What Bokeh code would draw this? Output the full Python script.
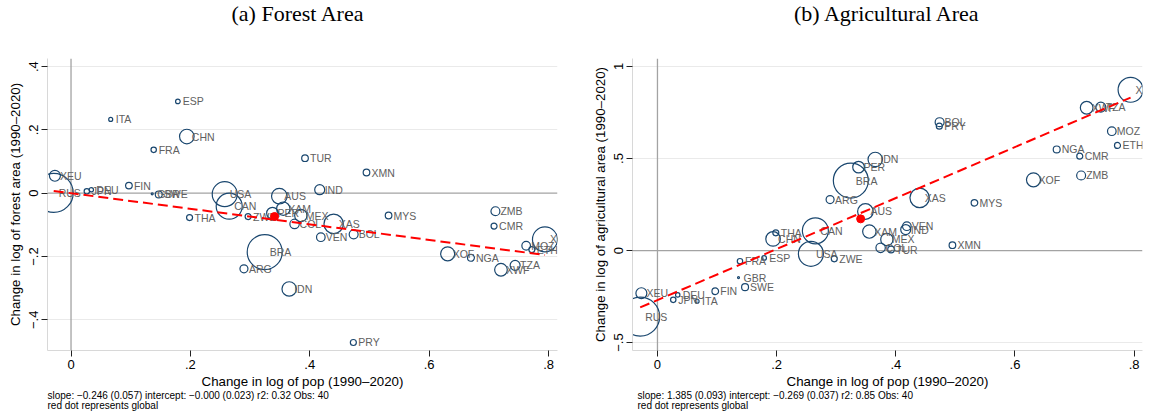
import math
from bokeh.plotting import figure
from bokeh.layouts import row
from bokeh.models import Range1d, FixedTicker, Span, Title, ColumnDataSource
from bokeh.core.properties import value
from bokeh.embed import file_html
from bokeh.resources import INLINE

# ---------------- data ----------------
countries = ["RUS", "XEU", "JPN", "DEU", "ITA", "FIN", "GBR", "SWE", "FRA", "ESP",
             "THA", "CHN", "CAN", "USA", "ZWE", "ARG", "BRA", "PER", "AUS", "IDN",
             "XAM", "COL", "MEX", "TUR", "IND", "VEN", "XAS", "BOL", "PRY", "MYS",
             "XMN", "XOF", "NGA", "ZMB", "CMR", "TZA", "XWF", "MOZ", "ETH", "XCF"]
pop_change = [-0.029, -0.027, 0.0265, 0.034, 0.0665, 0.097, 0.136, 0.147, 0.1385, 0.179,
              0.1986, 0.194, 0.265, 0.2575, 0.2967, 0.2897, 0.3245, 0.3375, 0.349, 0.3655,
              0.3556, 0.3745, 0.385, 0.392, 0.4166, 0.4185, 0.44, 0.4735, 0.473, 0.532,
              0.495, 0.631, 0.670, 0.711, 0.7087, 0.744, 0.7203, 0.7625, 0.772, 0.794]
forest_change = [0.001, 0.055, 0.006, 0.011, 0.233, 0.024, -0.002, -0.004, 0.137, 0.290,
                 -0.077, 0.179, -0.041, -0.003, -0.074, -0.239, -0.186, -0.063, -0.0095, -0.3025,
                 -0.049, -0.097, -0.0705, 0.1106, 0.011, -0.139, -0.097, -0.130, -0.4717, -0.0705,
                 0.0654, -0.1915, -0.204, -0.057, -0.104, -0.228, -0.242, -0.166, -0.178, -0.146]
agri_change = [-0.359, -0.232, -0.268, -0.241, -0.2755, -0.221, -0.147, -0.199, -0.058, -0.040,
               0.096, 0.063, 0.107, -0.018, -0.045, 0.277, 0.380, 0.453, 0.212, 0.4946,
               0.103, 0.0145, 0.060, 0.0054, 0.114, 0.132, 0.286, 0.697, 0.6755, 0.259,
               0.029, 0.384, 0.549, 0.4076, 0.5127, 0.779, 0.7755, 0.648, 0.5707, 0.873]
weight = [380, 30, 7.3, 4.8, 4, 11, 1, 12, 7.3, 5.3,
          9, 53, 169, 156, 9, 16, 306, 34, 61, 52,
          45, 22, 38, 11, 25, 18.5, 94, 20, 9, 11,
          11, 49, 12, 20, 9, 25, 40, 18.5, 9, 156]

global_pop = [0.341]
global_forest = [-0.0736]
global_agri = [0.172]

forest_fit = {"slope": -0.246, "intercept": -0.000}
agri_fit = {"slope": 1.385, "intercept": -0.269}

x_ticks = [0, 0.2, 0.4, 0.6, 0.8]
x_tick_labels = ["0", ".2", ".4", ".6", ".8"]
forest_ticks = [-0.4, -0.2, 0, 0.2, 0.4]
forest_tick_labels = ["\u2212.4", "\u2212.2", "0", ".2", ".4"]
agri_ticks = [-0.5, 0, 0.5, 1]
agri_tick_labels = ["\u2212.5", "0", ".5", "1"]

forest_note = "slope: \u22120.246 (0.057) intercept: \u22120.000 (0.023) r2: 0.32 Obs: 40"
agri_note = "slope: 1.385 (0.093) intercept: \u22120.269 (0.037) r2: 0.85 Obs: 40"
note2 = "red dot represents global"

SANS = "Liberation Sans"
NAVY = "#1a476f"


def panel(title, ylabel, yvals, gy, fit, yticks, ylabels, note, xr, yr,
          bl, br, title_align, title_off, note_off):
    p = figure(frame_width=510, frame_height=292, x_range=Range1d(*xr), y_range=Range1d(*yr),
               output_backend="svg", toolbar_location=None, title=None,
               min_border_left=bl, min_border_right=br, min_border_top=58, min_border_bottom=66)
    p.outline_line_color = None
    p.background_fill_color = "white"
    p.border_fill_color = "white"

    # spacer between frame and title, then the title itself
    p.add_layout(Title(text=" ", text_font_size="1px", standoff=28), "above")
    p.add_layout(Title(text=title, text_font="Liberation Serif", text_font_size="22px",
                       text_font_style="normal", text_color="black", align=title_align,
                       offset=title_off, vertical_align="top", standoff=0), "above")

    for ax in (p.xaxis[0], p.yaxis[0]):
        ax.axis_line_color = "#d8d8d8"
        ax.major_tick_line_color = "#222222"
        ax.major_tick_out = 6
        ax.major_tick_in = 0
        ax.minor_tick_line_color = None
        ax.major_label_text_font = SANS
        ax.major_label_text_font_size = "13px"
        ax.major_label_text_color = "black"
        ax.axis_label_text_font = SANS
        ax.axis_label_text_font_size = "13.3px"
        ax.axis_label_text_font_style = "normal"
        ax.axis_label_text_color = "black"

    p.xaxis.ticker = FixedTicker(ticks=x_ticks)
    p.xaxis.major_label_overrides = dict(zip(x_ticks, x_tick_labels))
    p.xaxis.axis_label = "Change in log of pop (1990\u20132020)"
    p.xaxis.major_label_standoff = 3
    p.xaxis.axis_label_standoff = 2

    p.yaxis.ticker = FixedTicker(ticks=yticks)
    p.yaxis.major_label_overrides = dict(zip(yticks, ylabels))
    p.yaxis.major_label_orientation = "vertical"
    p.yaxis.axis_label = ylabel
    p.yaxis.major_label_standoff = 3
    p.yaxis.axis_label_standoff = 4

    p.xgrid.visible = False
    p.ygrid.ticker = FixedTicker(ticks=[t for t in yticks if t != 0])
    p.ygrid.grid_line_color = "#eaeaea"
    p.ygrid.grid_line_width = 1

    p.add_layout(Span(location=0, dimension="width", line_color="#a3a3a3",
                      line_width=1.3, level="underlay"))
    p.add_layout(Span(location=0, dimension="height", line_color="#a3a3a3",
                      line_width=1.3, level="underlay"))

    src = ColumnDataSource(dict(x=pop_change, y=yvals, name=countries,
                                size=[2 * math.sqrt(w) for w in weight]))
    p.scatter("x", "y", size="size", source=src, marker="circle", fill_color=None,
              line_color=NAVY, line_width=1.2)
    p.text("x", "y", text="name", source=src, x_offset=5, text_baseline="middle",
           text_align="left", text_font=value(SANS), text_font_size="10.5px",
           text_color="#606060")

    xs = [min(pop_change), max(pop_change)]
    ys = [fit["intercept"] + fit["slope"] * v for v in xs]
    p.line(xs, ys, line_color="#ff0000", line_width=2, line_dash="10 5")
    p.scatter(global_pop, gy, size=8, marker="circle", fill_color="#ff0000",
              line_color="#ff0000")

    for txt, so in ((note, -4), (note2, -2)):
        t = Title(text=txt, align="left", text_font=SANS, text_font_size="10px",
                  text_font_style="normal", text_color="black", offset=note_off,
                  vertical_align="top", standoff=so)
        p.add_layout(t, "below")
    return p


p1 = panel("(a) Forest Area", "Change in log of forest area (1990\u20132020)", forest_change,
           global_forest, forest_fit, forest_ticks, forest_tick_labels, forest_note,
           (-0.0394, 0.815), (-0.497, 0.4256), 47, 28, "left", 184, 0)
p2 = panel("(b) Agricultural Area", "Change in log of agricultural area (1990\u20132020)",
           agri_change, global_agri, agri_fit, agri_ticks, agri_tick_labels, agri_note,
           (-0.0419, 0.814), (-0.543, 1.043), 47, 15, "center", 0, 5)

layout = row(p1, p2, spacing=0)
open("out.html", "w").write(file_html(layout, INLINE))
